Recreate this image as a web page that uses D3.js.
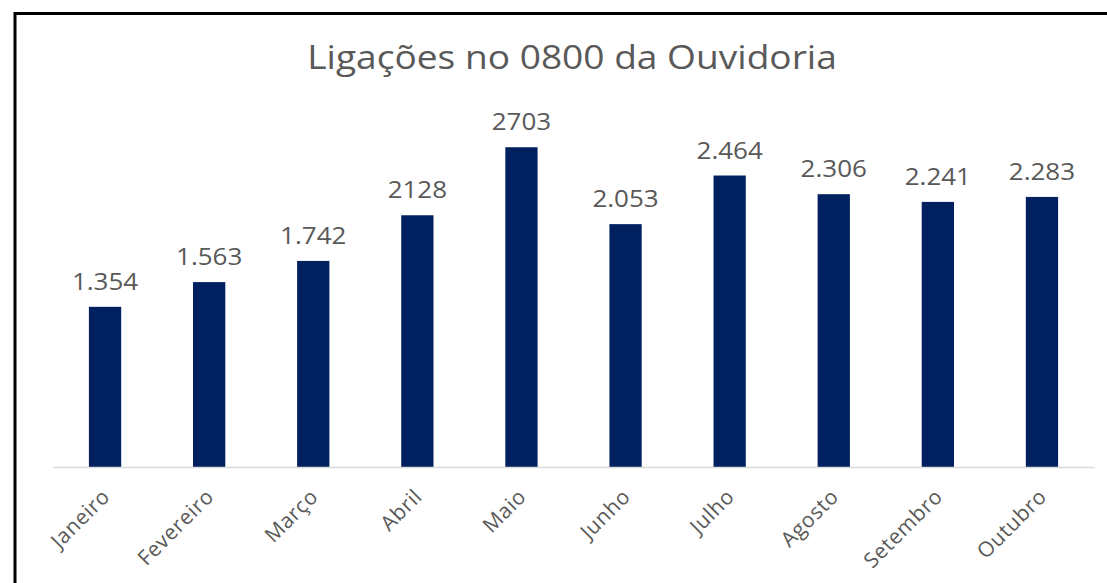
<!DOCTYPE html>
<html>
<head>
<meta charset="utf-8">
<script src="https://cdn.jsdelivr.net/npm/d3@7"></script>
<style>
  body { margin: 0; background: #fff; }
  text { font-family: "Open Sans", sans-serif; }
</style>
</head>
<body>
<div id="chart"></div>
<script>
// Chart data
const months = ["Janeiro", "Fevereiro", "Março", "Abril", "Maio", "Junho", "Julho", "Agosto", "Setembro", "Outubro"];
const calls = [1354, 1563, 1742, 2128, 2703, 2053, 2464, 2306, 2241, 2283];
const callLabels = ["1.354", "1.563", "1.742", "2128", "2703", "2.053", "2.464", "2.306", "2.241", "2.283"];

const width = 1107;
const height = 583;

const svg = d3.select("#chart").append("svg")
    .attr("width", width)
    .attr("height", height);

// frame (only top and left edges visible)
svg.append("path")
    .attr("d", `M15,${height} V13.5 H${width}`)
    .attr("fill", "none")
    .attr("stroke", "#000")
    .attr("stroke-width", 3);

const x = d3.scaleBand()
    .domain(months)
    .range([53, 1094])
    .paddingInner(0.69)
    .paddingOuter(0.345);

const y = d3.scaleLinear()
    .domain([0, 3000])
    .range([467, 467 - 0.1183 * 3000]);

// title (the source picture is slightly stretched horizontally)
svg.append("text")
    .attr("transform", "translate(572,69) scale(1.16,1)")
    .attr("text-anchor", "middle")
    .attr("fill", "#595959")
    .style("font-size", "32px")
    .text("Ligações no 0800 da Ouvidoria");

// bars
svg.append("g")
    .selectAll("rect")
    .data(calls)
    .enter().append("rect")
    .attr("x", (d, i) => x(months[i]))
    .attr("y", d => y(d))
    .attr("width", x.bandwidth())
    .attr("height", d => y(0) - y(d))
    .attr("fill", "#002060");

// data labels
svg.append("g")
    .selectAll("text")
    .data(calls)
    .enter().append("text")
    .attr("transform", (d, i) => `translate(${x(months[i]) + x.bandwidth() / 2},${y(d) - 17}) scale(1.13,1)`)
    .attr("text-anchor", "middle")
    .attr("fill", "#595959")
    .style("font-size", "23px")
    .text((d, i) => callLabels[i]);

// x axis
const xAxis = svg.append("g")
    .attr("transform", "translate(0,467)")
    .call(d3.axisBottom(x).tickSize(0).tickPadding(0));

xAxis.select(".domain")
    .attr("stroke", "#d9d9d9")
    .attr("stroke-width", 1.5);

xAxis.selectAll("text")
    .attr("fill", "#595959")
    .style("font-size", "21px")
    .style("letter-spacing", "0.6px")
    .attr("text-anchor", "end")
    .attr("dy", null)
    .attr("transform", "translate(6,31) rotate(-45)");
</script>
</body>
</html>
